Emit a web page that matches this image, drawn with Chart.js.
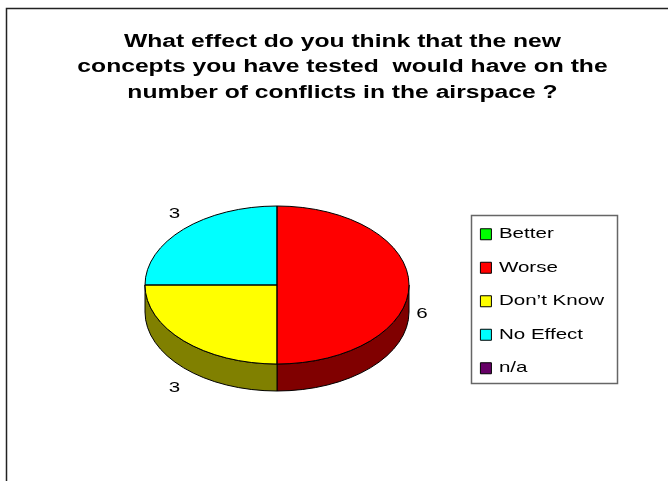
<!DOCTYPE html>
<html>
<head>
<meta charset="utf-8">
<title>Conflicts in the airspace</title>
<script src="https://cdn.jsdelivr.net/npm/chart.js@4.4.0/dist/chart.umd.min.js"></script>
<style>
    html, body { margin: 0; padding: 0; background: #fff; }
    #wrap { position: relative; width: 668px; height: 481px; }
</style>
</head>
<body>
<div id="wrap"><canvas id="chart"></canvas></div>
<script>
// data
const categories = ['Better', 'Worse', 'Don\u2019t Know', 'No Effect', 'n/a'];
const answers = [0, 6, 3, 3, 0];
const titleLines = [
    'What effect do you think that the new',
    'concepts you have tested  would have on the',
    'number of conflicts in the airspace ?'
];

const topColors = ['#00ff00', '#ff0000', '#ffff00', '#00ffff', '#660066'];
const sideColors = ['#008000', '#800000', '#808000', '#008080', '#330033'];
const FONT = "'Liberation Sans', Arial, sans-serif";

// where the flattened pie sits on the page
const CX = 277, CY = 285, RX = 132, RY = 79, DEPTH = 27;
// the original text is a horizontally stretched Arial
const STRETCH = 1.37;

const pie3d = {
    id: 'pie3d',
    beforeInit(chart) {
        // stretch every text draw around its anchor point, and measure it the same way
        const ctx = chart.ctx;
        const fill = ctx.fillText;
        const measure = ctx.measureText;
        ctx.fillText = function(text, x, y) {
            this.save();
            this.translate(x, y);
            this.scale(STRETCH, 1);
            fill.call(this, text, 0, 0);
            this.restore();
        };
        ctx.measureText = function(text) {
            const m = measure.call(this, text);
            return {
                width: m.width * STRETCH,
                actualBoundingBoxAscent: m.actualBoundingBoxAscent,
                actualBoundingBoxDescent: m.actualBoundingBoxDescent
            };
        };
    },
    beforeDraw(chart) {
        const ctx = chart.ctx;
        ctx.save();
        ctx.fillStyle = '#fff';
        ctx.fillRect(0, 0, chart.width, chart.height);
        // outer frame (right and bottom run off the picture)
        ctx.strokeStyle = '#222';
        ctx.lineWidth = 1.5;
        ctx.strokeRect(6.5, 8.5, chart.width + 20, chart.height + 20);
        ctx.restore();
    },
    beforeDatasetsDraw(chart) {
        const ctx = chart.ctx;
        const arcs = chart.getDatasetMeta(0).data;
        // side walls of the front half
        ctx.save();
        ctx.lineWidth = 1;
        ctx.strokeStyle = '#000';
        arcs.forEach((arc, i) => {
            const s = Math.max(arc.startAngle, 0);
            const e = Math.min(arc.endAngle, Math.PI);
            if (e <= s) return;
            ctx.beginPath();
            ctx.ellipse(CX, CY, RX, RY, 0, s, e);
            ctx.ellipse(CX, CY + DEPTH, RX, RY, 0, e, s, true);
            ctx.closePath();
            ctx.fillStyle = sideColors[i];
            ctx.fill();
            ctx.stroke();
        });
        ctx.restore();

        // squash the library's round pie into the ellipse
        const a = arcs[0];
        ctx.save();
        ctx.translate(CX, CY);
        ctx.scale(RX / a.outerRadius, RY / a.outerRadius);
        ctx.translate(-a.x, -a.y);
    },
    afterDatasetsDraw(chart) {
        const ctx = chart.ctx;
        ctx.restore();
        const arcs = chart.getDatasetMeta(0).data;
        ctx.save();
        ctx.lineWidth = 1;
        ctx.strokeStyle = '#000';
        arcs.forEach(arc => {
            if (arc.endAngle - arc.startAngle <= 0) return;
            ctx.beginPath();
            ctx.moveTo(CX, CY);
            ctx.ellipse(CX, CY, RX, RY, 0, arc.startAngle, arc.endAngle);
            ctx.closePath();
            ctx.stroke();
        });

        // value labels outside the slices
        ctx.fillStyle = '#000';
        ctx.font = '15px ' + FONT;
        ctx.textAlign = 'center';
        ctx.textBaseline = 'middle';
        arcs.forEach((arc, i) => {
            if (!answers[i]) return;
            const m = (arc.startAngle + arc.endAngle) / 2;
            const x = CX + (RX + 13) * Math.cos(m);
            const y = CY + 2 + (RY + 44) * Math.sin(m) + DEPTH * Math.cos(m) * Math.cos(m);
            ctx.fillText(String(answers[i]), x, y);
        });

        // legend frame
        ctx.strokeStyle = '#666';
        ctx.lineWidth = 1.5;
        ctx.strokeRect(471.5, 215.5, 146, 168);
        ctx.restore();
    }
};

new Chart(document.getElementById('chart'), {
    type: 'pie',
    data: {
        labels: categories,
        datasets: [{
            data: answers,
            backgroundColor: topColors,
            borderWidth: 0,
            clip: false
        }]
    },
    options: {
        responsive: true,
        maintainAspectRatio: false,
        animation: false,
        events: [],
        layout: {
            padding: { left: 71, right: 54, top: 15, bottom: 11 }
        },
        plugins: {
            title: {
                display: true,
                text: titleLines,
                color: '#000',
                font: { family: FONT, size: 18, weight: 'bold', lineHeight: 25.5 / 18 },
                padding: { top: 14, bottom: 27 }
            },
            legend: {
                position: 'right',
                fullSize: false,
                labels: {
                    color: '#000',
                    font: { family: FONT, size: 15 },
                    boxWidth: 11,
                    boxHeight: 11,
                    padding: 18.5,
                    generateLabels(chart) {
                        const items = Chart.overrides.pie.plugins.legend.labels.generateLabels(chart);
                        items.forEach(it => {
                            it.lineWidth = 1;
                            it.strokeStyle = '#000';
                        });
                        return items;
                    }
                }
            },
            tooltip: { enabled: false }
        }
    },
    plugins: [pie3d]
});
</script>
</body>
</html>
